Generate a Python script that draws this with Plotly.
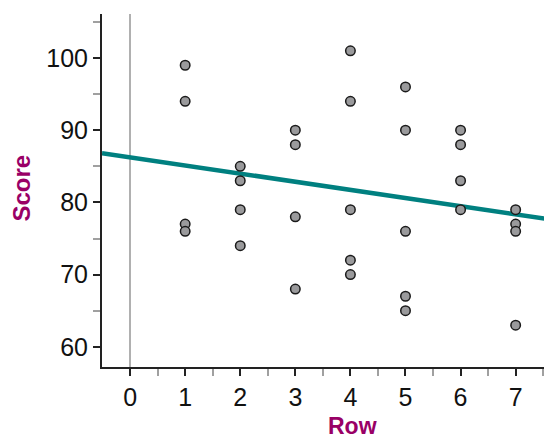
import plotly.graph_objects as go

rows = [1, 1, 1, 1,
        2, 2, 2, 2,
        3, 3, 3, 3,
        4, 4, 4, 4, 4,
        5, 5, 5, 5, 5,
        6, 6, 6, 6,
        7, 7, 7, 7]
scores = [99, 94, 77, 76,
          85, 83, 79, 74,
          90, 88, 78, 68,
          101, 94, 79, 72, 70,
          96, 90, 76, 67, 65,
          90, 88, 83, 79,
          79, 77, 76, 63]

line_intercept = 86.25
line_slope = -1.13

x_range = [-0.51, 7.66]
y_range = [57.2, 106.1]

x_ticks = [0, 1, 2, 3, 4, 5, 6, 7]
x_minor = [0.5, 1.5, 2.5, 3.5, 4.5, 5.5, 6.5, 7.5]
y_ticks = [60, 70, 80, 90, 100]
y_minor = [65, 75, 85, 95, 105]

line_x = x_range
line_y = [line_intercept + line_slope * v for v in line_x]

fig = go.Figure()
fig.add_trace(go.Scatter(
    x=line_x, y=line_y, mode="lines",
    line=dict(color="#008080", width=4.5),
    hoverinfo="skip", showlegend=False,
))
fig.add_trace(go.Scatter(
    x=rows, y=scores, mode="markers",
    marker=dict(size=9.5, color="#9a9a9c", line=dict(color="#1a1a1a", width=1.5)),
    showlegend=False, cliponaxis=False,
))

font_family = "Liberation Sans, Arial, sans-serif"
title_color = "#990066"

# page body has an 8px margin; figure is sized to fit the 552x441 window
fig.update_layout(
    width=544, height=433,
    margin=dict(l=94, r=0, t=6, b=74),
    paper_bgcolor="white", plot_bgcolor="white",
    font=dict(family=font_family, size=25, color="#111"),
    xaxis=dict(
        range=x_range, showgrid=False,
        zeroline=True, zerolinecolor="#b0b0b0", zerolinewidth=1.5,
        showline=True, linecolor="#222", linewidth=2,
        ticks="outside", ticklen=7, tickwidth=2, tickcolor="#222",
        tickmode="array", tickvals=x_ticks,
        minor=dict(tickmode="array", tickvals=x_minor,
                   ticks="outside", ticklen=7, tickwidth=1.5, tickcolor="#a0a0a0", showgrid=False),
        tickfont=dict(size=25, color="#111"),
    ),
    yaxis=dict(
        range=y_range, showgrid=False, zeroline=False,
        showline=True, linecolor="#222", linewidth=2,
        ticks="outside", ticklen=7, tickwidth=2, tickcolor="#222",
        tickmode="array", tickvals=y_ticks,
        ticklabelstandoff=0,
        minor=dict(tickmode="array", tickvals=y_minor,
                   ticks="outside", ticklen=7, tickwidth=1.5, tickcolor="#a0a0a0", showgrid=False),
        tickfont=dict(size=25, color="#111"),
    ),
    annotations=[
        dict(text="<b>Row</b>", xref="paper", yref="paper", x=0.556, y=-0.167,
             xanchor="center", yanchor="middle", showarrow=False,
             font=dict(size=23, color=title_color, family=font_family)),
        dict(text="<b>Score</b>", xref="paper", yref="paper", x=-0.178, y=0.508,
             xanchor="center", yanchor="middle", textangle=-90, showarrow=False,
             font=dict(size=24, color=title_color, family=font_family)),
    ],
)

fig.write_html("out.html")
